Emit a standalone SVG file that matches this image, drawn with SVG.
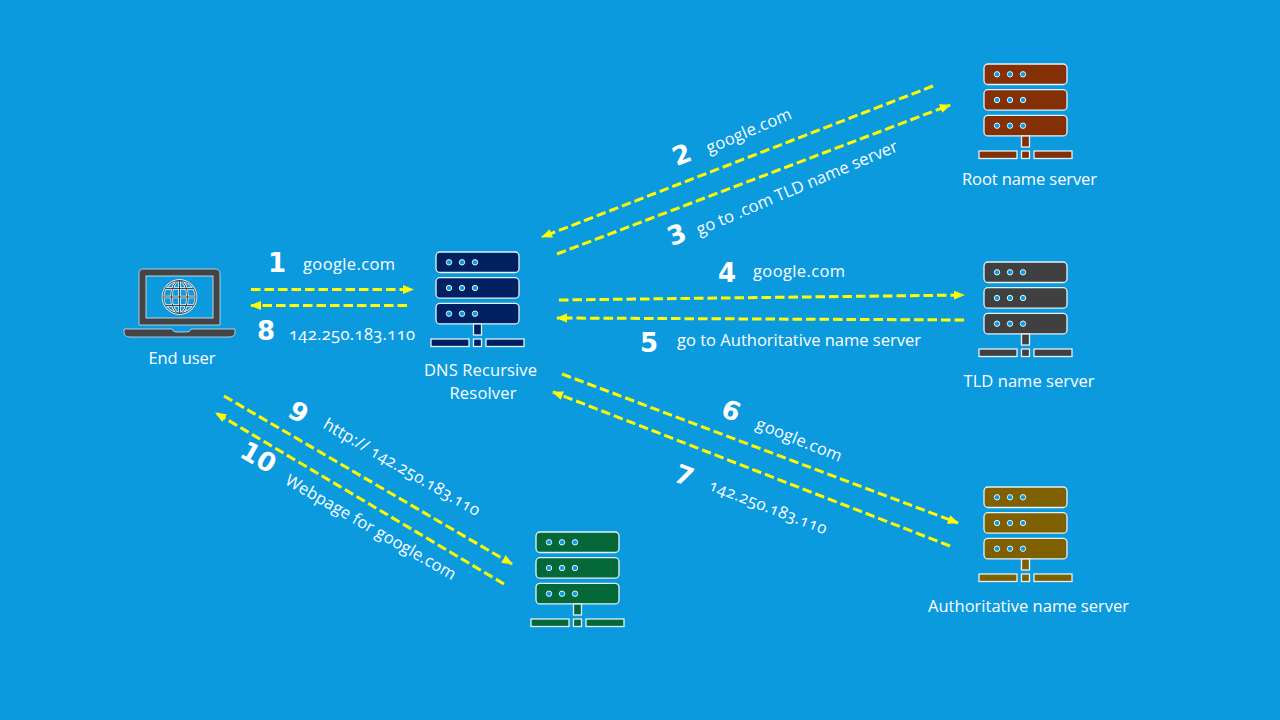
<svg xmlns="http://www.w3.org/2000/svg" width="1280" height="720" viewBox="0 0 1280 720">
<style>
text{font-family:"Open Sans","Lato","Noto Sans",sans-serif;fill:#fff;font-feature-settings:"onum";font-weight:400;}
.l{font-size:16.5px;}
.n{font-size:26px;font-weight:700;font-family:"DejaVu Sans",sans-serif;text-anchor:middle;}
.c{text-anchor:middle;}
.a{fill:none;stroke:#ffff00;stroke-width:3;stroke-dasharray:9.500 4;}
.s{stroke:#e4f1f8;stroke-width:1.300;}
.d{fill:#0b9ade;stroke:#e4f1f8;stroke-width:1;}
</style>
<defs>
<marker id="h" markerUnits="userSpaceOnUse" markerWidth="12" markerHeight="10" refX="10" refY="5" orient="auto-start-reverse"><path d="M0 0.500L11 5L0 9.500z" fill="#ffff00"/></marker>
<g id="srv">
<rect class="s" x="0" y="0" width="83" height="20.500" rx="4"/>
<rect class="s" x="0" y="25.700" width="83" height="20.500" rx="4"/>
<rect class="s" x="0" y="51.400" width="83" height="20.500" rx="4"/>
<g class="d"><circle cx="13" cy="10.300" r="2.700"/><circle cx="26" cy="10.300" r="2.700"/><circle cx="39" cy="10.300" r="2.700"/>
<circle cx="13" cy="36" r="2.700"/><circle cx="26" cy="36" r="2.700"/><circle cx="39" cy="36" r="2.700"/>
<circle cx="13" cy="61.700" r="2.700"/><circle cx="26" cy="61.700" r="2.700"/><circle cx="39" cy="61.700" r="2.700"/></g>
<rect class="s" x="37.500" y="72" width="8" height="11"/>
<rect class="s" x="-5" y="87" width="38" height="7.500"/>
<rect class="s" x="37.500" y="87" width="8" height="7.500"/>
<rect class="s" x="50" y="87" width="38" height="7.500"/>
</g>
</defs>
<rect width="1280" height="720" fill="#0b9ade"/>
<g id="connectors">
<line class="a" x1="251" y1="289.500" x2="413" y2="289.500" marker-end="url(#h)"/>
<line class="a" x1="407" y1="305.500" x2="251" y2="305.500" marker-end="url(#h)"/>
<line class="a" x1="933" y1="86" x2="542" y2="237" marker-end="url(#h)"/>
<line class="a" x1="557" y1="254" x2="950" y2="105" marker-end="url(#h)"/>
<line class="a" x1="559" y1="300" x2="964" y2="295" marker-end="url(#h)"/>
<line class="a" x1="964" y1="320" x2="557" y2="318" marker-end="url(#h)"/>
<line class="a" x1="562" y1="374" x2="958" y2="523" marker-end="url(#h)"/>
<line class="a" x1="950" y1="546" x2="553" y2="392" marker-end="url(#h)"/>
<line class="a" x1="224" y1="396" x2="512" y2="564" marker-end="url(#h)"/>
<line class="a" x1="504" y1="584" x2="216" y2="413" marker-end="url(#h)"/>
</g>
<g id="end-user">
<path d="M143 269H215Q220 269 220 274V325H139V274Q139 269 143 269Z" fill="#444" stroke="#cfe3ee" stroke-width=".8"/>
<rect x="146" y="276" width="67" height="42" fill="#0b9ade" stroke="#e4f1f8" stroke-width=".8"/>
<path d="M124 329H172Q173 332 176 332H187Q190 332 191 329H235V332Q235 337 229 337H130Q124 337 124 332Z" fill="#444" stroke="#cfe3ee" stroke-width=".8"/>
<g fill="none" stroke="#e4f1f8" stroke-width="2.600"><circle cx="179.500" cy="297" r="16.500"/><ellipse cx="179.500" cy="297" rx="8" ry="16.500"/><path d="M179.500 281V313M163.500 297H195.500M166 288.500H193M166 305.500H193"/></g>
<g fill="none" stroke="#444" stroke-width="1"><circle cx="179.500" cy="297" r="16.500"/><ellipse cx="179.500" cy="297" rx="8" ry="16.500"/><path d="M179.500 281V313M163.500 297H195.500M166 288.500H193M166 305.500H193"/></g>
<text class="l c" x="182" y="364" textLength="67">End user</text>
</g>
<g id="resolver"><use href="#srv" x="436" y="252" fill="#002060"/><text class="l c" x="480.500" y="376" textLength="113">DNS Recursive</text><text class="l c" x="483" y="399" textLength="67">Resolver</text></g>
<g id="root"><use href="#srv" x="984" y="64" fill="#843006"/><text class="l c" x="1029.500" y="185" textLength="135">Root name server</text></g>
<g id="tld"><use href="#srv" x="984" y="262" fill="#404040"/><text class="l c" x="1029" y="387" textLength="131">TLD name server</text></g>
<g id="auth"><use href="#srv" x="984" y="487" fill="#7f6000"/><text class="l c" x="1028.500" y="612" textLength="201">Authoritative name server</text></g>
<g id="web"><use href="#srv" x="536" y="532" fill="#056839"/></g>
<g id="labels">
<text class="n" x="277" y="272">1</text>
<text class="l" x="303" y="270" textLength="92">google.com</text>
<text class="n" x="266" y="340">8</text>
<text class="l" x="289" y="340" textLength="126">142.250.183.110</text>
<text class="n" transform="translate(685 163) rotate(-21)">2</text>
<text class="l c" transform="translate(751 136) rotate(-23)" textLength="91">google.com</text>
<text class="n" transform="translate(680 243) rotate(-21)">3</text>
<text class="l c" transform="translate(799 193) rotate(-23)" textLength="217">go to .com TLD name server</text>
<text class="n" x="727" y="282">4</text>
<text class="l" x="753" y="277" textLength="92">google.com</text>
<text class="n" x="649" y="352">5</text>
<text class="l" x="677" y="346" textLength="244">go to Authoritative name server</text>
<text class="n" transform="translate(728 419) rotate(21)">6</text>
<text class="l c" transform="translate(797 445) rotate(22)" textLength="91">google.com</text>
<text class="n" transform="translate(681 484) rotate(21)">7</text>
<text class="l c" transform="translate(766 512) rotate(21)" textLength="125">142.250.183.110</text>
<text class="n" transform="translate(294 420) rotate(30)">9</text>
<text class="l c" transform="translate(399 472) rotate(30)" textLength="178">http:// 142.250.183.110</text>
<text class="n" transform="translate(254 465) rotate(30)">10</text>
<text class="l c" transform="translate(368 532) rotate(30)" textLength="194">Webpage for google.com</text>
</g>
</svg>
